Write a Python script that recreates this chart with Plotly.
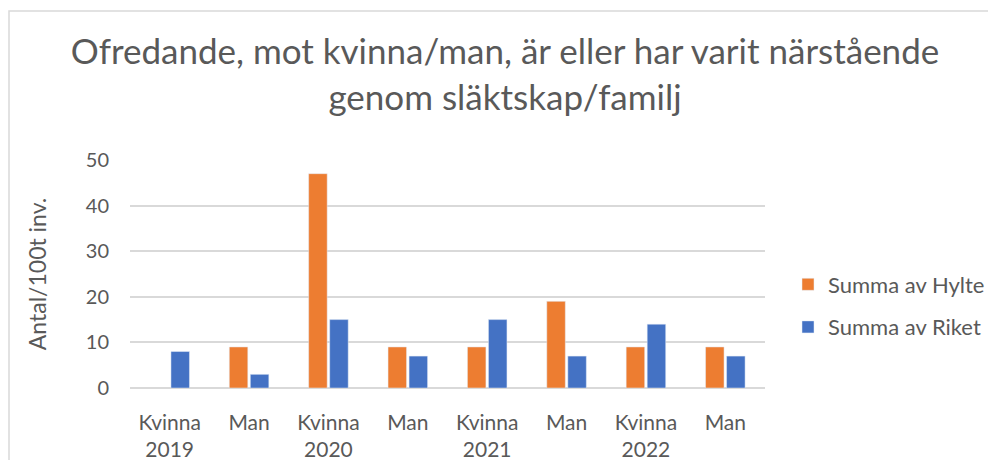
import plotly.graph_objects as go

categories = ["Kvinna<br>2019", "Man", "Kvinna<br>2020", "Man",
              "Kvinna<br>2021", "Man", "Kvinna<br>2022", "Man"]
hylte = [None, 9, 47, 9, 9, 19, 9, 9]
riket = [8, 3, 15, 7, 15, 7, 14, 7]
series_names = ["Summa av Hylte", "Summa av Riket"]
y_ticks = [0, 10, 20, 30, 40, 50]

FONT = "Lato"
GRAY = "#595959"
OFF = 8  # page body margin
W, H = 996 - 2 * OFF, 468 - 2 * OFF
# plot area in screen pixels of the reference
PL, PR, PT, PB = 130, 765, 160, 388
ML, MT = PL - OFF, PT - OFF
MR, MB = W - (PR - OFF), H - (PB - OFF)
PW, PH = PR - PL, PB - PT

x_idx = list(range(len(categories)))

fig = go.Figure()
fig.add_trace(go.Bar(x=x_idx, y=hylte, name=series_names[0],
                     marker_color="#ED7D31", legendgroup="a"))
fig.add_trace(go.Bar(x=x_idx, y=riket, name=series_names[1],
                     marker_color="#4472C4", legendgroup="b"))

def px_x(p):
    return (p - PL) / PW

def px_y(p):
    return (PB - p) / PH

fig.update_layout(
    width=W, height=H,
    margin=dict(l=ML, r=MR, t=MT, b=MB, autoexpand=False),
    paper_bgcolor="white", plot_bgcolor="white",
    font=dict(family=FONT, color=GRAY, size=20),
    title=dict(text="Ofredande, mot kvinna/man, är eller har varit närstående<br>genom släktskap/familj",
               x=(505 - OFF) / W, xanchor="center", xref="container",
               y=1 - 56 / H, yanchor="top", yref="container",
               font=dict(size=35, color=GRAY, family=FONT)),
    barmode="group", bargap=0.47, bargroupgap=0.12,
    showlegend=True,
    legend=dict(x=px_x(788), xanchor="left", y=px_y(306), yanchor="middle",
                font=dict(size=22, color=GRAY, family=FONT),
                traceorder="grouped", tracegroupgap=11,
                bgcolor="rgba(0,0,0,0)"),
    xaxis=dict(tickmode="array", tickvals=x_idx, ticktext=categories,
               range=[-0.5, len(categories) - 0.5],
               showgrid=False, zeroline=False, showline=False, ticks="",
               tickfont=dict(size=21, color=GRAY), ticklabelstandoff=20,
               fixedrange=True),
    yaxis=dict(range=[0, 50], tickvals=y_ticks, showgrid=True,
               gridcolor="#D9D9D9", gridwidth=1.5, zeroline=True,
               zerolinecolor="#D9D9D9", zerolinewidth=1.5, showline=False,
               ticks="", tickfont=dict(size=20, color=GRAY), ticklabelstandoff=20,
               title=dict(text="Antal/100t inv.", font=dict(size=23, color=GRAY),
                          standoff=32)),
    shapes=[dict(type="rect", xref="paper", yref="paper",
                 x0=px_x(9), x1=px_x(996 + 20), y0=px_y(468 + 20), y1=px_y(11),
                 line=dict(color="#D9D9D9", width=1.5), fillcolor="rgba(0,0,0,0)",
                 layer="below")],
)

fig.write_html("out.html")
